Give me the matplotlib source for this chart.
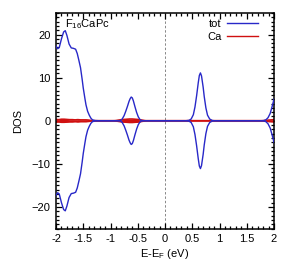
import matplotlib
matplotlib.use("Agg")
import matplotlib.pyplot as plt
import numpy as np
from matplotlib.ticker import MultipleLocator

plt.rcParams['font.family'] = ['Liberation Sans', 'DejaVu Sans']
plt.rcParams['mathtext.fontset'] = 'custom'
plt.rcParams['mathtext.rm'] = 'Liberation Sans'
plt.rcParams['mathtext.it'] = 'Liberation Sans'

# Total DOS (spin up; spin down is mirrored)
energy = [-2.00, -1.97, -1.94, -1.90, -1.86, -1.83, -1.80, -1.76, -1.72, -1.68,
          -1.64, -1.61, -1.58, -1.55, -1.52, -1.50, -1.47, -1.45, -1.42, -1.39,
          -1.36, -1.33, -1.28, -1.20, -0.90, -0.82, -0.79, -0.75, -0.72, -0.69,
          -0.66, -0.64, -0.62, -0.60, -0.58, -0.55, -0.52, -0.49, -0.46, -0.43,
          -0.38, 0.38, 0.44, 0.48, 0.52, 0.55, 0.58, 0.61, 0.63, 0.65,
          0.67, 0.70, 0.72, 0.75, 0.78, 0.82, 0.87, 0.92, 1.75, 1.81,
          1.85, 1.89, 1.93, 1.97, 2.00]
tot_up = [17.3, 16.7, 17.0, 19.0, 20.6, 20.9, 19.8, 17.8, 16.9, 16.8,
          16.6, 15.6, 14.0, 12.3, 9.6, 7.6, 5.2, 3.7, 2.2, 1.3,
          0.6, 0.2, 0.05, 0.0, 0.0, 0.05, 0.3, 1.2, 2.2, 3.3,
          4.5, 5.1, 5.5, 5.3, 4.6, 3.2, 1.9, 0.9, 0.3, 0.05,
          0.0, 0.0, 0.1, 0.4, 1.4, 3.2, 5.8, 8.8, 10.5, 11.1,
          10.4, 7.8, 5.6, 3.0, 1.3, 0.4, 0.05, 0.0, 0.0, 0.05,
          0.2, 0.7, 1.7, 3.5, 5.0]
tot_dn = [-v for v in tot_up]

# Ca projected DOS (small, near zero)
ca_energy = [-2.00, -1.95, -1.90, -1.85, -1.80, -1.75, -1.70, -1.65, -1.60, -1.55,
             -1.50, -1.45, -1.40, -1.35, -1.30, -0.95, -0.90, -0.85, -0.80, -0.75,
             -0.70, -0.65, -0.60, -0.55, -0.50, -0.45, -0.40, -0.35, 1.80, 1.85,
             1.90, 1.95, 2.00]
ca_up = [0.3, 0.25, 0.35, 0.35, 0.3, 0.25, 0.25, 0.2, 0.25, 0.2,
         0.2, 0.2, 0.15, 0.05, 0.0, 0.0, 0.05, 0.15, 0.25, 0.3,
         0.35, 0.4, 0.4, 0.35, 0.3, 0.2, 0.1, 0.0, 0.0, 0.1,
         0.15, 0.2, 0.25]
ca_dn = [-v for v in ca_up]

xticks = [-2, -1.5, -1, -0.5, 0, 0.5, 1, 1.5, 2]
xticklabels = ['-2', '-1.5', '-1', '-0.5', '0', '0.5', '1', '1.5', '2']
yticks = [-20, -10, 0, 10, 20]

fig = plt.figure(figsize=(2.91, 2.77), dpi=100)
ax = fig.add_axes([56/291, 1 - 228.5/277, 218/291, 215.5/277])

blue = '#2828c8'
red = '#d01010'
fs = 8

ax.axhline(0, color='#eeb4b4', lw=0.8, zorder=1)
ax.plot(ca_energy, ca_up, color=red, lw=1.2, zorder=2)
ax.plot(ca_energy, ca_dn, color=red, lw=1.2, zorder=2)
ax.fill_between(ca_energy, ca_dn, ca_up, color=red, lw=0, zorder=2)
ax.plot(energy, tot_up, color=blue, lw=1.0, label='tot', zorder=3)
ax.plot(energy, tot_dn, color=blue, lw=1.0, zorder=3)
ax.plot([], [], color=red, lw=1.0, label='Ca')
ax.axvline(0, color='#888888', lw=0.7, ls=(0, (2.5, 2)), zorder=1)

ax.set_xlim(-2, 2)
ax.set_ylim(-25, 25)
ax.set_xticks(xticks)
ax.set_xticklabels(xticklabels)
ax.set_yticks(yticks)
ax.xaxis.set_minor_locator(MultipleLocator(0.1))
ax.yaxis.set_minor_locator(MultipleLocator(1))
ax.tick_params(which='both', direction='in', top=True, right=True, labelsize=fs,
               width=0.9)
ax.tick_params(which='major', length=4, pad=4)
ax.tick_params(which='minor', length=2)
for s in ax.spines.values():
    s.set_linewidth(1.1)

ax.set_xlabel('E-E$_F$ (eV)', fontsize=fs, labelpad=2)
ax.set_ylabel('DOS', fontsize=fs, labelpad=6)
ax.text(-1.84, 22.5, 'F$_{16}$CaPc', fontsize=fs, va='center', ha='left')

leg = ax.legend(loc='upper right', frameon=False, fontsize=fs, markerfirst=False,
                handlelength=2.8, borderaxespad=0.15, labelspacing=0.25,
                handletextpad=0.5, bbox_to_anchor=(0.955, 1.0))

fig.savefig('out.png', dpi=100)
